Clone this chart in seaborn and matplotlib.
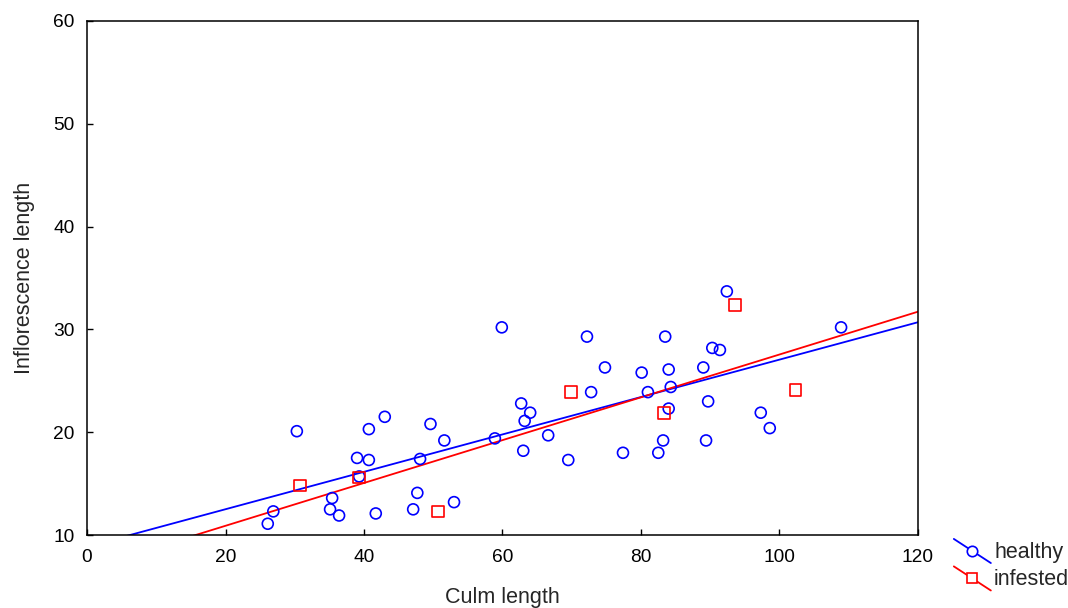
import numpy as np
import pandas as pd
import matplotlib
matplotlib.use("Agg")
import matplotlib.pyplot as plt
from matplotlib.lines import Line2D
from matplotlib.legend_handler import HandlerLine2D
import seaborn as sns

# Culm length vs. inflorescence length, healthy plants
healthy_culm = [26.1, 26.9, 30.3, 35.4, 35.1, 36.4, 39.0, 39.3, 40.7, 40.7,
                41.7, 43.0, 47.1, 47.7, 48.1, 49.6, 51.6, 53.0, 58.9, 59.9,
                62.7, 63.0, 63.2, 64.0, 66.6, 69.5, 72.2, 72.8, 74.8, 77.4,
                80.1, 81.0, 82.5, 83.2, 83.5, 84.0, 84.0, 84.3, 89.0, 89.4,
                89.7, 90.3, 91.4, 92.4, 97.3, 98.6, 108.9]
healthy_infl = [11.1, 12.3, 20.1, 13.6, 12.5, 11.9, 17.5, 15.7, 20.3, 17.3,
                12.1, 21.5, 12.5, 14.1, 17.4, 20.8, 19.2, 13.2, 19.4, 30.2,
                22.8, 18.2, 21.1, 21.9, 19.7, 17.3, 29.3, 23.9, 26.3, 18.0,
                25.8, 23.9, 18.0, 19.2, 29.3, 26.1, 22.3, 24.4, 26.3, 19.2,
                23.0, 28.2, 28.0, 33.7, 21.9, 20.4, 30.2]

# Infested plants
infested_culm = [30.8, 39.3, 50.7, 69.9, 83.3, 93.6, 102.3]
infested_infl = [14.8, 15.6, 12.3, 23.9, 21.9, 32.4, 24.1]

groups = ["healthy", "infested"]
colors = {"healthy": "#0000ff", "infested": "#ff0000"}
markers = {"healthy": "o", "infested": "s"}

df = pd.concat([
    pd.DataFrame({"culm": healthy_culm, "infl": healthy_infl, "group": "healthy"}),
    pd.DataFrame({"culm": infested_culm, "infl": infested_infl, "group": "infested"}),
], ignore_index=True)

sns.set_style("ticks")
plt.rcParams["font.family"] = ["Liberation Sans", "DejaVu Sans"]
plt.rcParams["font.size"] = 13.5

fig = plt.figure(figsize=(10.68, 6.08), dpi=100)
ax = fig.add_axes([0.0815, 0.12, 0.778, 0.8455])
ax.set_xlim(0, 120)
ax.set_ylim(10, 60)

for g in groups:
    sub = df[df["group"] == g]
    sns.regplot(data=sub, x="culm", y="infl", ax=ax, scatter=False, ci=None,
                truncate=False, color=colors[g], line_kws={"lw": 1.3})
for g in groups:
    sub = df[df["group"] == g]
    sns.scatterplot(data=sub, x="culm", y="infl", ax=ax, marker=markers[g],
                    s=62 if g == "healthy" else 70, facecolors="none",
                    edgecolor=colors[g], linewidth=1.2, zorder=3)

ax.set_xlim(0, 120)
ax.set_ylim(10, 60)
ax.set_xticks(np.arange(0, 121, 20))
ax.set_yticks(np.arange(10, 61, 10))
ax.tick_params(direction="in", length=4, width=1, colors="black",
               labelsize=13.8)
ax.tick_params(axis="x", pad=10)
ax.tick_params(axis="y", pad=9)
for s in ax.spines.values():
    s.set_color("black")
    s.set_linewidth(1.1)

ax.set_xlabel("Culm length", fontsize=15.5, labelpad=15.5)
ax.set_ylabel("Inflorescence length", fontsize=15.5, labelpad=13)


class SlantedLineHandler(HandlerLine2D):
    """Legend key drawn as a descending diagonal with the marker at its centre."""

    def create_artists(self, legend, orig_handle, xdescent, ydescent,
                       width, height, fontsize, trans):
        x0, x1 = -xdescent, width - xdescent
        y0, y1 = height * 1.25 - ydescent, -0.35 * height - ydescent
        line = Line2D([x0, x1], [y0, y1], color=orig_handle.get_color(),
                      lw=1.3, transform=trans)
        mark = Line2D([(x0 + x1) / 2], [(y0 + y1) / 2],
                      marker=orig_handle.get_marker(),
                      markersize=orig_handle.get_markersize(),
                      markerfacecolor="white",
                      markeredgecolor=orig_handle.get_color(),
                      markeredgewidth=1.2, linestyle="none", transform=trans)
        return [line, mark]


handles = [Line2D([], [], color=colors[g], marker=markers[g], markersize=7.5,
                  linestyle="-") for g in groups]
fig.legend(handles, groups, loc="lower left", bbox_to_anchor=(0.881, 0.008),
           frameon=False, fontsize=15.5, handlelength=1.72, handletextpad=0.15,
           labelspacing=0.3, borderaxespad=0.2,
           handler_map={Line2D: SlantedLineHandler()})

fig.savefig("out.png", dpi=100)
